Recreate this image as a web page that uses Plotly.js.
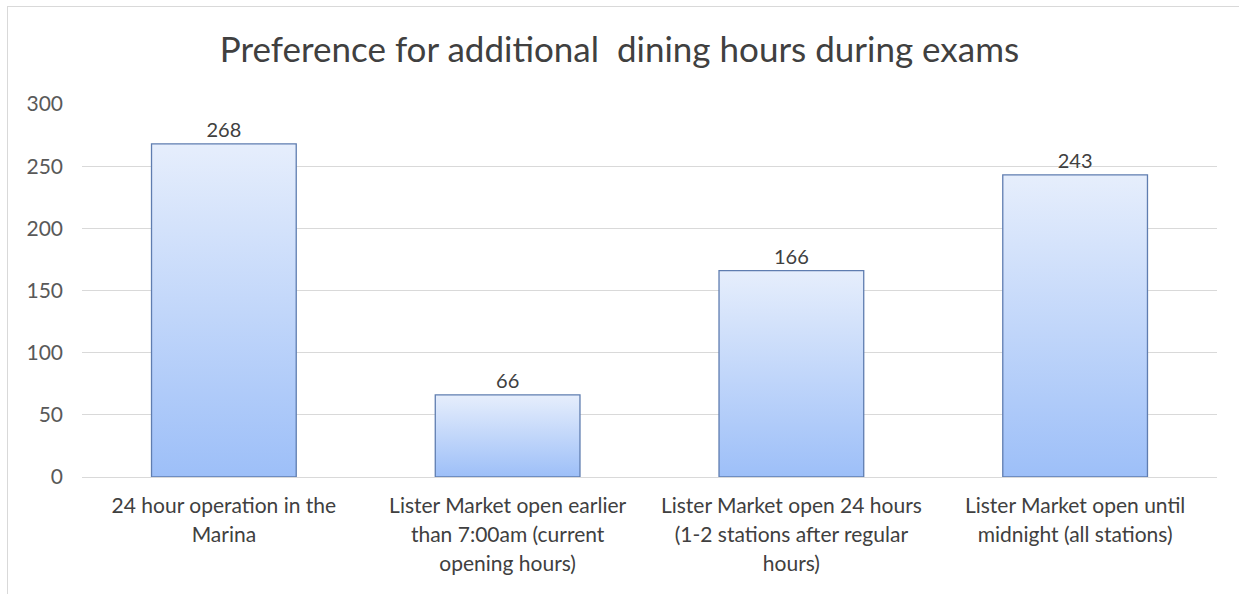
<!DOCTYPE html>
<html>
<head>
<meta charset="utf-8">
<script src="https://cdn.plot.ly/plotly-3.0.1.min.js"></script>
<style>
html,body{margin:0;padding:0;background:#fff;}
#wrap{position:relative;width:1239px;height:594px;overflow:hidden;}
#frame{position:absolute;left:7px;top:6px;width:1300px;height:700px;border-left:1px solid #d9d9d9;border-top:1px solid #d9d9d9;pointer-events:none;z-index:2;}
#chart{position:absolute;left:0;top:0;width:1239px;height:594px;}
</style>
</head>
<body>
<div id="wrap">
<div id="chart"></div>
<div id="frame"></div>
</div>
<script>
const categories = [
  "24 hour operation in the<br>Marina",
  "Lister Market open earlier<br>than 7:00am (current<br>opening hours)",
  "Lister Market open 24 hours<br>(1-2 stations after regular<br>hours)",
  "Lister Market open until<br>midnight (all stations)"
];
const counts = [268, 66, 166, 243];
const yTicks = [0, 50, 100, 150, 200, 250, 300];
const chartTitle = "Preference for additional&nbsp; dining hours during exams";

const FONT = "Lato, 'Open Sans', sans-serif";

const trace = {
  type: "bar",
  x: categories,
  y: counts,
  text: counts.map(String),
  textposition: "outside",
  cliponaxis: false,
  textfont: {family: FONT, size: 20, color: "#404040"},
  marker: {color: "#bcd3fa", line: {color: "#5f7db0", width: 1.3}},
  hoverinfo: "none"
};

const layout = {
  width: 1239, height: 594,
  margin: {l: 82, r: 22, t: 104, b: 117, pad: 0},
  paper_bgcolor: "#ffffff",
  plot_bgcolor: "#ffffff",
  font: {family: FONT, color: "#595959"},
  title: {
    text: chartTitle,
    font: {family: FONT, size: 35, color: "#404040"},
    x: 0.5, xanchor: "center",
    y: 1 - 50/594, yanchor: "middle", yref: "container"
  },
  bargap: 0.49,
  showlegend: false,
  xaxis: {
    type: "category",
    showgrid: false,
    showline: true, linecolor: "#d9d9d9", linewidth: 1,
    ticks: "",
    tickfont: {family: FONT, size: 21, color: "#404040"},
    ticklabelstandoff: 10,
    fixedrange: true
  },
  yaxis: {
    range: [0, 300],
    tickvals: yTicks,
    ticktext: yTicks.map(String),
    showgrid: true, gridcolor: "#d9d9d9", gridwidth: 1,
    zeroline: false,
    showline: false,
    ticks: "",
    tickfont: {family: FONT, size: 21, color: "#595959"},
    ticklabelstandoff: 18,
    fixedrange: true
  }
};

Plotly.newPlot("chart", [trace], layout, {staticPlot: true, displayModeBar: false}).then(function(gd){
  const svg = gd.querySelector("svg.main-svg");
  const NS = "http://www.w3.org/2000/svg";
  let defs = svg.querySelector("defs");
  if (!defs) { defs = document.createElementNS(NS, "defs"); svg.insertBefore(defs, svg.firstChild); }
  const lg = document.createElementNS(NS, "linearGradient");
  lg.setAttribute("id", "barGrad");
  lg.setAttribute("x1", "0"); lg.setAttribute("y1", "0");
  lg.setAttribute("x2", "0"); lg.setAttribute("y2", "1");
  [["0", "#e6eefc"], ["1", "#9dbff8"]].forEach(function(s){
    const st = document.createElementNS(NS, "stop");
    st.setAttribute("offset", s[0]);
    st.setAttribute("stop-color", s[1]);
    lg.appendChild(st);
  });
  defs.appendChild(lg);
  gd.querySelectorAll(".bars .point path").forEach(function(p){
    p.style.fill = "url(#barGrad)";
    p.style.fillOpacity = 1;
  });
  gd.querySelectorAll(".xtick text tspan.line").forEach(function(t){
    const dy = t.getAttribute("dy");
    if (dy && dy !== "0em") {
      const v = parseFloat(dy);
      t.setAttribute("dy", (v / 1.3 * 1.38) + "em");
    }
  });
});
</script>
</body>
</html>
